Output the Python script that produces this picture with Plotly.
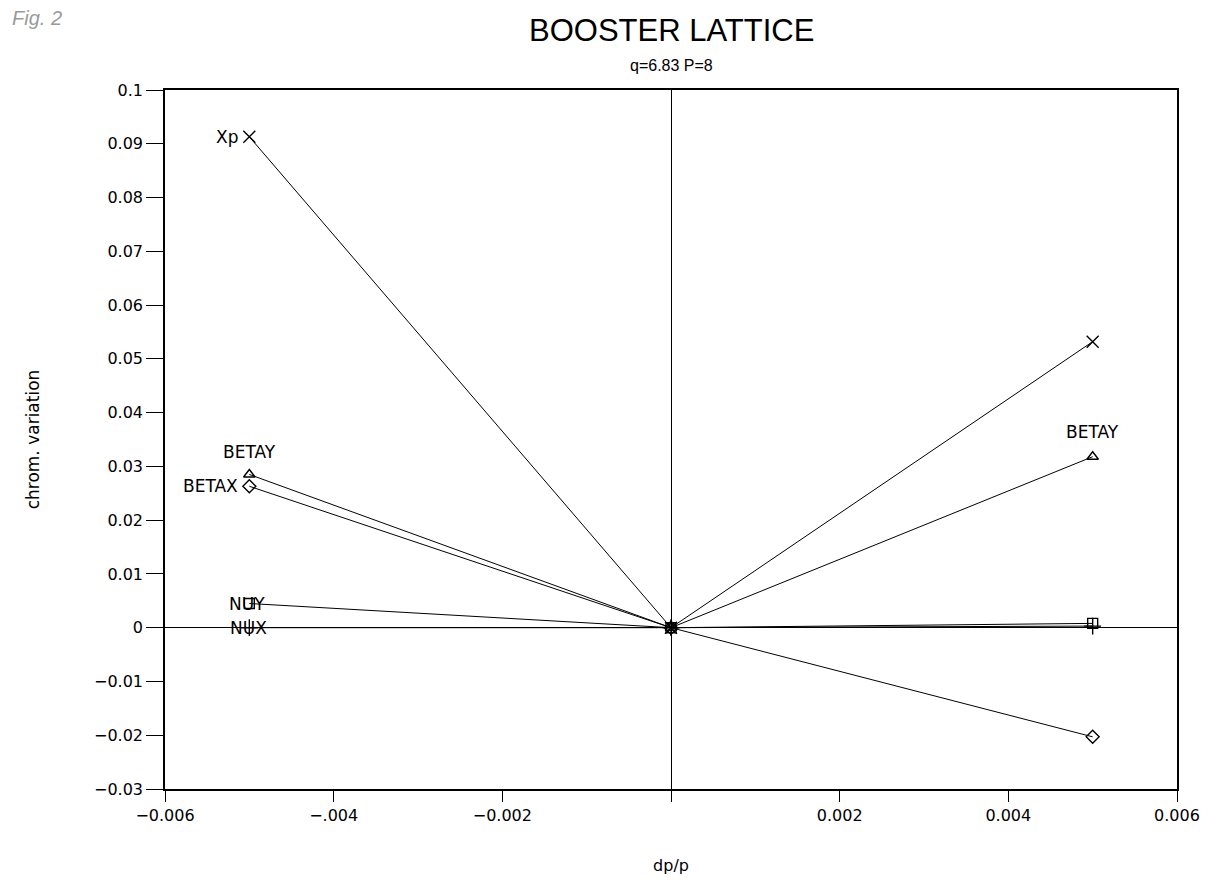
import plotly.graph_objects as go

dpp = [-0.005, 0.0, 0.005]
xp = [0.0913, 0.0, 0.0532]
betay = [0.0285, 0.0, 0.0318]
betax = [0.0263, 0.0, -0.0203]
nuy = [0.0045, 0.0, 0.0008]
nux = [0.0, 0.0, 0.0003]

x_tickvals = [-0.006, -0.004, -0.002, 0.0, 0.002, 0.004, 0.006]
x_ticktext = ["\u22120.006", "\u2212.004", "\u22120.002", "", "0.002", "0.004", "0.006"]
y_tickvals = [0.1, 0.09, 0.08, 0.07, 0.06, 0.05, 0.04, 0.03, 0.02, 0.01, 0.0, -0.01, -0.02, -0.03]
y_ticktext = ["0.1", "0.09", "0.08", "0.07", "0.06", "0.05", "0.04", "0.03", "0.02", "0.01", "0",
              "\u22120.01", "\u22120.02", "\u22120.03"]

series = [
    ("Xp", xp, "x-thin-open", 12),
    ("BETAY", betay, "triangle-up-open", 10),
    ("BETAX", betax, "diamond-open", 10),
    ("NUY", nuy, "square-open", 10),
    ("NUX", nux, "cross-thin-open", 12),
]

FONT = "DejaVu Sans"
TFONT = "Liberation Sans"
fig = go.Figure()
for name, ys, sym, sz in series:
    fig.add_trace(go.Scatter(
        x=dpp, y=ys, mode="lines+markers", name=name,
        line=dict(color="black", width=1),
        marker=dict(symbol=sym, size=sz, color="black",
                    line=dict(color="black", width=1.4)),
        showlegend=False,
    ))

ann = [
    dict(x=dpp[0], y=xp[0], text="Xp", xanchor="right", yanchor="middle", xshift=-9),
    dict(x=dpp[0], y=betay[0], text="BETAY", xanchor="center", yanchor="middle", yshift=22),
    dict(x=dpp[0], y=betax[0], text="BETAX", xanchor="right", yanchor="middle", xshift=-9),
    dict(x=dpp[0], y=nuy[0], text="NUY", xanchor="center", yanchor="middle", xshift=-2),
    dict(x=dpp[0], y=nux[0], text="NUX", xanchor="center", yanchor="middle", xshift=-1),
    dict(x=dpp[2], y=betay[2], text="BETAY", xanchor="center", yanchor="middle", yshift=25),
]
for a in ann:
    a.update(showarrow=False, xref="x", yref="y", font=dict(family=FONT, size=17, color="black"))
    fig.add_annotation(**a)

# title, subtitle, handwritten figure mark (positions in paper coords)
PLOT_H = 882 - 82 - 101
def py(px):  # figure pixel y -> paper y
    return (882 - 101 - px) / PLOT_H

fig.add_annotation(text="BOOSTER LATTICE", xref="paper", yref="paper", x=0.5, y=py(22),
                   xanchor="center", yanchor="middle", showarrow=False,
                   font=dict(family=TFONT, size=31, color="black"))
fig.add_annotation(text="q=6.83 P=8", xref="paper", yref="paper", x=0.5, y=py(57),
                   xanchor="center", yanchor="middle", showarrow=False,
                   font=dict(family=TFONT, size=16, color="black"))
fig.add_annotation(text="<i>Fig. 2</i>", xref="paper", yref="paper", x=-155 / 1012, y=py(10),
                   xanchor="left", yanchor="middle", showarrow=False,
                   font=dict(family=TFONT, size=20, color="#9a9a9a"))

fig.update_layout(
    width=1209, height=882,
    paper_bgcolor="white", plot_bgcolor="white",
    margin=dict(l=157, r=40, t=82, b=101, autoexpand=False),
    font=dict(family=FONT, size=16, color="black"),
)
fig.update_xaxes(
    range=[-0.006, 0.006], tickvals=x_tickvals, ticktext=x_ticktext,
    ticks="outside", ticklen=11, tickcolor="black", tickwidth=1,
    showline=True, linecolor="black", linewidth=1.6, mirror=True,
    showgrid=False, zeroline=True, zerolinecolor="black", zerolinewidth=1.2,
    title=dict(text="dp/p", font=dict(family=FONT, size=16), standoff=36),
    tickfont=dict(family=FONT, size=16),
)
fig.update_yaxes(
    range=[-0.03, 0.1], tickvals=y_tickvals, ticktext=y_ticktext,
    ticks="outside", ticklen=17, tickcolor="black", tickwidth=1,
    showline=True, linecolor="black", linewidth=1.6, mirror=True,
    showgrid=False, zeroline=True, zerolinecolor="black", zerolinewidth=1.2,
    title=dict(text="chrom. variation", font=dict(family=FONT, size=17), standoff=50),
    tickfont=dict(family=FONT, size=16),
)

fig.write_html("out.html")
